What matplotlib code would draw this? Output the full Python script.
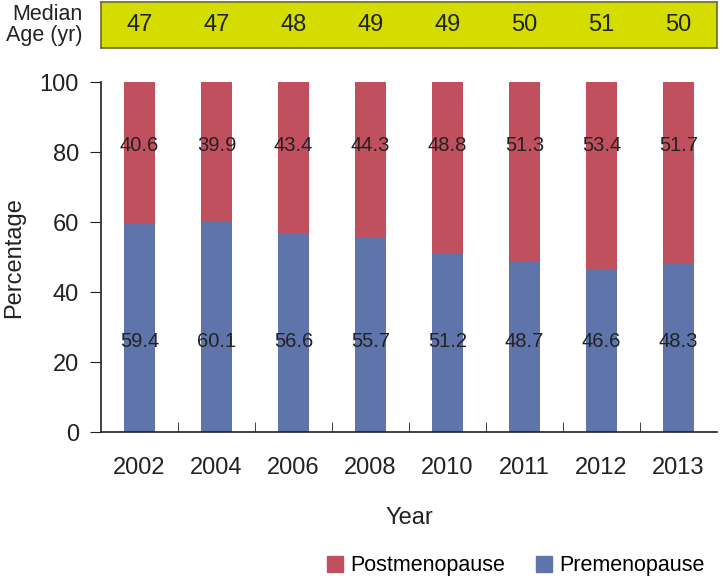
import matplotlib.pyplot as plt
import matplotlib.patches as mpatches
import numpy as np

plt.rcParams['font.family'] = ['Liberation Sans', 'DejaVu Sans']

years = ['2002', '2004', '2006', '2008', '2010', '2011', '2012', '2013']
premenopause = [59.4, 60.1, 56.6, 55.7, 51.2, 48.7, 46.6, 48.3]
postmenopause = [40.6, 39.9, 43.4, 44.3, 48.8, 51.3, 53.4, 51.7]
median_age = [47, 47, 48, 49, 49, 50, 51, 50]

blue = '#5F74AA'
red = '#C0505E'
box_color = '#D4DC00'
ink = '#222222'

fig = plt.figure(figsize=(7.24, 5.83), dpi=100)
ax = fig.add_axes([0.1395, 0.259, 0.851, 0.6])
ax_top = fig.add_axes([0.1395, 0.918, 0.851, 0.078])

x = np.arange(len(years))
w = 0.41
ax.bar(x, premenopause, w, color=blue, zorder=2)
ax.bar(x, postmenopause, w, bottom=premenopause, color=red, zorder=2)

# value labels sit on two fixed rows
for i in range(len(years)):
    ax.text(x[i], 82, f'{postmenopause[i]:.1f}', ha='center', va='center',
            fontsize=14.5, color=ink, zorder=3)
    ax.text(x[i], 26, f'{premenopause[i]:.1f}', ha='center', va='center',
            fontsize=14.5, color=ink, zorder=3)

ax.set_xlim(-0.5, len(years) - 0.5)
ax.set_ylim(0, 100)
ax.set_yticks([0, 20, 40, 60, 80, 100])
ax.tick_params(axis='y', labelsize=17, length=8, direction='out', pad=8, colors=ink)
ax.set_xticks(x)
ax.set_xticklabels(years)
ax.tick_params(axis='x', which='major', length=0, labelsize=17, pad=18, labelcolor=ink)
ax.set_xticks(x[:-1] + 0.5, minor=True)
ax.tick_params(axis='x', which='minor', length=7, direction='in', color=ink)
for s in ['top', 'right']:
    ax.spines[s].set_visible(False)
for s in ['left', 'bottom']:
    ax.spines[s].set_color(ink)
    ax.spines[s].set_linewidth(1.2)
ax.set_ylabel('Percentage', fontsize=17, color=ink, labelpad=10)
ax.set_xlabel('Year', fontsize=17, color=ink, labelpad=20)

# median age strip
ax_top.set_facecolor(box_color)
ax_top.set_xlim(-0.5, len(years) - 0.5)
ax_top.set_ylim(0, 1)
ax_top.set_xticks([])
ax_top.set_yticks([])
for s in ax_top.spines.values():
    s.set_color('#6B6B30')
    s.set_linewidth(1.2)
for i in range(len(years)):
    ax_top.text(x[i], 0.5, str(median_age[i]), ha='center', va='center',
                fontsize=17, color=ink)
fig.text(0.114, 0.957, 'Median\nAge (yr)', ha='right', va='center',
         fontsize=15.5, color=ink, linespacing=1.05)

handles = [mpatches.Patch(color=red, label='Postmenopause'),
           mpatches.Patch(color=blue, label='Premenopause')]
fig.legend(handles=handles, loc='lower right', bbox_to_anchor=(1.0, -0.022), ncol=2,
           frameon=False, fontsize=15.5, handlelength=0.75, handleheight=0.75,
           handletextpad=0.35, columnspacing=1.4)

plt.savefig('out.png', dpi=100)
